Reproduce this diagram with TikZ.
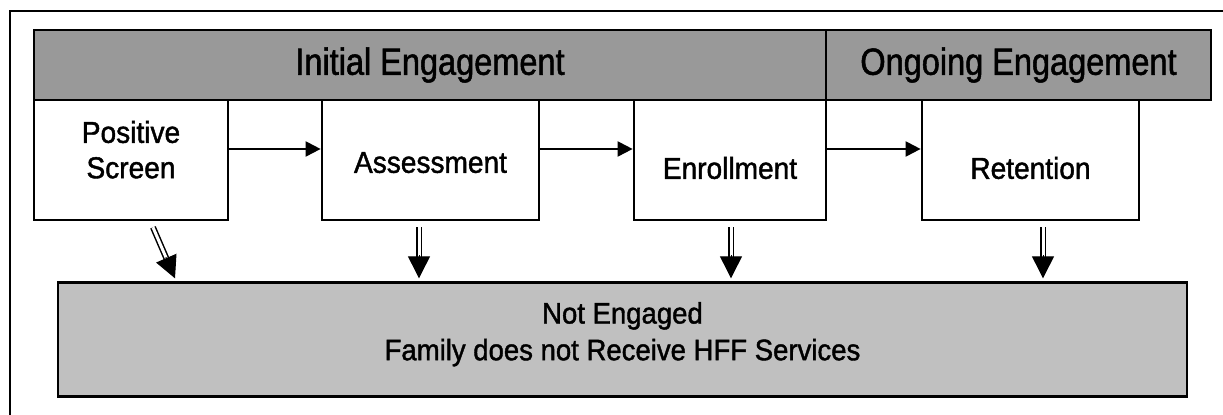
\documentclass[tikz,border=0pt]{standalone}
\usepackage{fontspec}
\setmainfont[FakeStretch=0.93,FakeBold=1.4]{Liberation Sans}
\newfontfamily\bandfont[FakeStretch=0.86,FakeBold=1.4]{Liberation Sans}
\usetikzlibrary{calc,positioning,arrows.meta}
\definecolor{bandgray}{HTML}{999999}
\definecolor{lostgray}{HTML}{C0C0C0}

\begin{document}
\begin{tikzpicture}[x=0.5pt,y=-0.5pt,
band/.style = {rectangle, draw, line width=1.35pt, fill=bandgray, minimum height=35pt,
               inner sep=0pt, font=\bandfont\fontsize{18.9}{22}\selectfont},
stage/.style = {rectangle, draw, line width=1.35pt, fill=white, minimum height=60pt,
                inner sep=0pt, align=center, font=\fontsize{15.1}{17.7}\selectfont},
lost/.style = {rectangle, draw, line width=1.35pt, fill=lostgray, minimum width=564.5pt,
               minimum height=57pt, inner sep=0pt, align=center,
               font=\fontsize{14.8}{18.35}\selectfont},
flow/.style = {draw, line width=1pt, -{Triangle[width=7.5pt,length=7.5pt]}},
twin/.style = {draw, double, line width=0.75pt, double distance=1.5pt},
drophead/.style = {draw, line width=0.5pt, -{Triangle[width=11pt,length=11pt]}}]
\useasboundingbox (0,0) rectangle (1223,415);

% frame
\draw[line width=1pt] (10,415) -- (10,11) -- (1223,11);

% phases
\node[band, minimum width=396pt] (initial) at (430,65) {Initial Engagement};
\node[band, minimum width=192.5pt] (ongoing) at (1018.5,65) {Ongoing Engagement};

% stages
\node[stage, minimum width=97pt] (screen) at (131,160) {Positive\\Screen\\[-7.3pt]\mbox{}};
\node[stage, minimum width=108.5pt, text height=12.8pt, text depth=0pt] (assess) at (430.5,160) {Assessment};
\node[stage, minimum width=96pt, text height=18.8pt, text depth=0pt] (enrol) at (730,160) {Enrollment};
\node[stage, minimum width=108.5pt, text height=18.8pt, text depth=0pt] (retain) at (1030.5,160) {Retention};

% not engaged
\node[lost] (drop) at (622.5,339.7) {Not Engaged\\Family does not Receive HFF Services\\[-9.8pt]\mbox{}};

\path[flow] ($(screen.east)+(0,-11)$) -- ($(assess.west)+(0,-11)$);
\path[flow] ($(assess.east)+(0,-11)$) -- ($(enrol.west)+(0,-11)$);
\path[flow] ($(enrol.east)+(0,-11)$) -- ($(retain.west)+(0,-11)$);

\foreach \n/\dx/\tx in {screen/22/44, assess/-11.5/-11.5, enrol/1/1, retain/12.5/12.5} {
  \coordinate (top) at ($(\n.south)+(\dx,6)$);
  \coordinate (tip) at ($(\n.south)+(\tx,57)$);
  \path[twin, shorten >=10.5pt] (top) -- (tip);
  \path[drophead] ($(tip)!11.5pt!(top)$) -- (tip);
}
\end{tikzpicture}
\end{document}
